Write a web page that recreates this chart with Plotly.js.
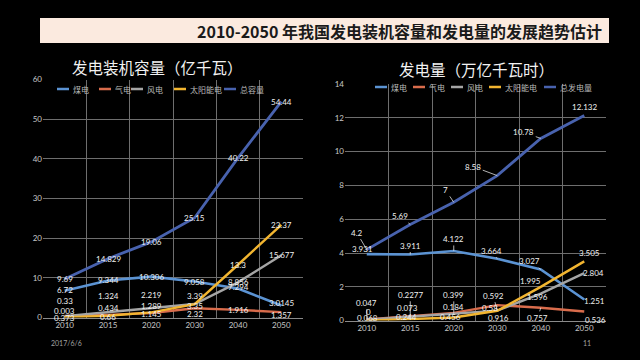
<!DOCTYPE html>
<html><head><meta charset="utf-8">
<script src="https://cdn.plot.ly/plotly-3.0.1.min.js"></script>
<style>html,body{margin:0;padding:0;background:#000;}#chart{width:640px;height:360px;}</style>
</head><body><div id="chart"></div>
<script>
// ---------- data ----------
const years = ['2010', '2015', '2020', '2030', '2040', '2050'];

// 发电装机容量（亿千瓦）
const capNames = ['煤电', '气电', '风电', '太阳能电', '总容量'];
const capCoal  = [6.72, 9.344, 10.306, 9.058, 7.294, 3.0145];
const capGas   = [0.373, 0.66, 1.145, 2.32, 1.916, 1.357];
const capWind  = [0.33, 1.324, 2.219, 3.39, 8.856, 15.677];
const capSolar = [0.003, 0.434, 1.289, 3.35, 13.3, 23.37];
const capTotal = [9.69, 14.829, 19.06, 25.15, 40.22, 54.44];

// 发电量（万亿千瓦时）
const genNames = ['煤电', '气电', '风电', '太阳能电', '总发电量'];
const genCoal  = [3.931, 3.911, 4.122, 3.664, 3.027, 1.251];
const genGas   = [0.068, 0.244, 0.456, 0.916, 0.757, 0.536];
const genWind  = [0.047, 0.2277, 0.399, 0.592, 1.596, 2.804];
const genSolar = [0, 0.073, 0.184, 0.58, 1.995, 3.505];
const genTotal = [4.2, 5.69, 7, 8.58, 10.78, 12.132];

// ---------- styles ----------
const colors = ['#5b93d3', '#d96c4c', '#a5a5a5', '#f2b530', '#4862ae'];
const widths = [2.6, 2.4, 2.4, 2.4, 2.8];
const gridColor = '#6e6e6e';
const tickFont = {family: 'Lato, "Noto Sans", sans-serif', size: 8, color: '#c8c8c8'};
const labelFont = {family: 'Lato, "Noto Sans", sans-serif', size: 8, color: '#f0f0f0'};
const cjk = '"Noto Sans CJK SC", "Noto Sans", sans-serif';

// label offsets in screen px [dx, dy] (dy down), per series, per year
const capOff = [
  [[0,-1],[0,0],[0,0],[0,0],[0,-2],[0,-3]],
  [[0,2],[0,2],[0,1],[0,6],[0,0],[0,3]],
  [[0,-15],[0,-16],[0,-14],[0,-8],[0,0],[0,0]],
  [[0,-6],[0,-8],[0,-6],[0,2],[0,0],[0,0]],
  [[0,0],[0,0],[0,0],[0,0],[0,0],[0,0]]
];
const genOff = [
  [[-4,-5],[0,-9],[0,-12],[-6,-8],[-11,-8],[10,2]],
  [[1,-1],[-4,1],[-3,4],[1,13],[-3,10],[11,8]],
  [[0,-17],[0,-22],[0,-19],[-4,-15],[-3,3],[9,0]],
  [[2,-9],[-3,-11],[0,-10],[-7,-3],[-10,-6],[5,-8]],
  [[-10,-17],[-10,-8],[-8,-12],[-24,-9],[-17,-6],[0,-9]]
];
const genLeader = [
  [0,1,1,1,1,0],
  [0,0,0,0,1,0],
  [1,1,1,1,0,0],
  [0,1,0,0,0,0],
  [1,1,1,1,1,0]
];

const px = x => x / 640;
const py = y => 1 - y / 360;

const capSeries = [capCoal, capGas, capWind, capSolar, capTotal];
const genSeries = [genCoal, genGas, genWind, genSolar, genTotal];

const traces = [];
capSeries.forEach((s, i) => traces.push({
  type: 'scatter', mode: 'lines', x: years, y: s, name: capNames[i],
  line: {color: colors[i], width: widths[i]}, xaxis: 'x', yaxis: 'y', showlegend: false
}));
genSeries.forEach((s, i) => traces.push({
  type: 'scatter', mode: 'lines', x: years, y: s, name: genNames[i],
  line: {color: colors[i], width: widths[i]}, xaxis: 'x2', yaxis: 'y2', showlegend: false
}));

const annotations = [];
const shapes = [];

// data labels (category axes: position by category index)
capSeries.forEach((s, i) => s.forEach((v, j) => {
  annotations.push({xref: 'x', yref: 'y', x: j, y: v, text: String(v),
    showarrow: false, xshift: capOff[i][j][0], yshift: -capOff[i][j][1], font: labelFont});
}));
genSeries.forEach((s, i) => s.forEach((v, j) => {
  const o = genOff[i][j];
  if (genLeader[i][j]) {
    annotations.push({xref: 'x2', yref: 'y2', x: j, y: v, text: String(v),
      showarrow: true, arrowhead: 0, arrowwidth: 0.8, arrowcolor: '#e0e0e0', standoff: 0,
      ax: o[0], ay: o[1], font: labelFont});
  } else {
    annotations.push({xref: 'x2', yref: 'y2', x: j, y: v, text: String(v),
      showarrow: false, xshift: o[0], yshift: -o[1], font: labelFont});
  }
}));

// legends (compact, drawn as swatch + text)
const legLeftX = [57, 99, 131, 174, 224];
const legRightX = [375, 413, 451, 489, 544];
function addLegend(xs, names, y) {
  xs.forEach((x, i) => {
    shapes.push({type: 'line', xref: 'paper', yref: 'paper', x0: px(x), x1: px(x + 12), y0: py(y), y1: py(y),
      line: {color: colors[i], width: 2.5}});
    annotations.push({xref: 'paper', yref: 'paper', x: px(x + 14), y: py(y), xanchor: 'left', yanchor: 'middle',
      text: names[i], showarrow: false, font: {family: cjk, size: 8, color: '#b8b8b8'}});
  });
}
addLegend(legLeftX, capNames, 89);
addLegend(legRightX, genNames, 87);

// title bar
shapes.push({type: 'rect', xref: 'paper', yref: 'paper', x0: px(40), x1: px(609), y0: py(43), y1: py(18),
  fillcolor: '#fbeadf', line: {width: 0}, layer: 'below'});
annotations.push({xref: 'paper', yref: 'paper', x: px(604), y: py(30.5), xanchor: 'right', yanchor: 'middle',
  text: '2010-2050 年我国发电装机容量和发电量的发展趋势估计', showarrow: false,
  font: {family: cjk, size: 16, color: '#1a1a1a', weight: 'bold'}});

// subplot titles
annotations.push({xref: 'paper', yref: 'paper', x: px(157), y: py(67), xanchor: 'center', yanchor: 'middle',
  text: '发电装机容量（亿千瓦）', showarrow: false, font: {family: cjk, size: 15.5, color: '#f2f2f2'}});
annotations.push({xref: 'paper', yref: 'paper', x: px(476), y: py(69), xanchor: 'center', yanchor: 'middle',
  text: '发电量（万亿千瓦时）', showarrow: false, font: {family: cjk, size: 15.5, color: '#f2f2f2'}});

// footer
annotations.push({xref: 'paper', yref: 'paper', x: px(49), y: py(343), xanchor: 'left', yanchor: 'middle',
  text: '2017/6/6', showarrow: false, font: {family: 'Lato, sans-serif', size: 7, color: '#a0a0a0'}});
annotations.push({xref: 'paper', yref: 'paper', x: px(587), y: py(343), xanchor: 'center', yanchor: 'middle',
  text: '11', showarrow: false, font: {family: 'Lato, sans-serif', size: 7, color: '#a0a0a0'}});

const xaxisBase = {type: 'category', tickson: 'boundaries', range: [-0.5, 5.5], showgrid: true,
  gridcolor: gridColor, gridwidth: 1, ticks: '', tickfont: tickFont, showline: true, linecolor: '#8a8a8a',
  linewidth: 1, zeroline: false, fixedrange: true};
const yaxisBase = {showgrid: true, gridcolor: gridColor, gridwidth: 1, ticks: '', tickfont: tickFont,
  zeroline: false, showline: false, fixedrange: true};

const layout = {
  width: 640, height: 360,
  margin: {l: 0, r: 0, t: 0, b: 0},
  paper_bgcolor: '#000', plot_bgcolor: '#000',
  showlegend: false,
  xaxis: Object.assign({}, xaxisBase, {domain: [px(43), px(303)], anchor: 'y'}),
  yaxis: Object.assign({}, yaxisBase, {domain: [py(317.5), py(79.5)], range: [0, 60], dtick: 10, anchor: 'x'}),
  xaxis2: Object.assign({}, xaxisBase, {domain: [px(345), px(606)], anchor: 'y2'}),
  yaxis2: Object.assign({}, yaxisBase, {domain: [py(320.6), py(84)], range: [0, 14], dtick: 2, anchor: 'x2'}),
  annotations: annotations,
  shapes: shapes
};

Plotly.newPlot('chart', traces, layout, {displayModeBar: false, staticPlot: true});
</script>
</body></html>
